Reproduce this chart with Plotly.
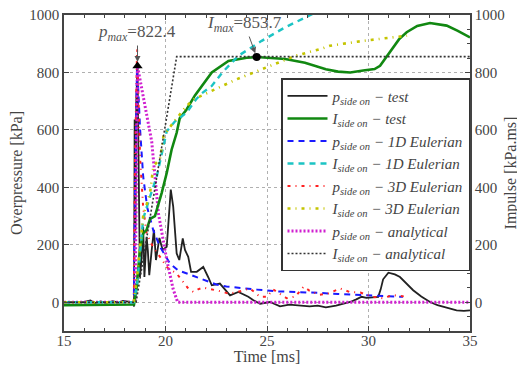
import plotly.graph_objects as go

# ---------------- data ----------------
t_p_test = [15.0, 15.6, 16.0, 16.3, 16.5, 16.8, 17.1, 17.4, 17.7, 17.9, 18.2, 18.42, 18.45, 18.48, 18.52,
            18.56, 18.62, 18.68, 18.74, 18.82, 18.9, 18.96, 19.0, 19.07, 19.13, 19.2, 19.32, 19.43, 19.53,
            19.7, 19.86, 20.06, 20.26, 20.38, 20.55, 20.68, 20.85, 20.96, 21.12, 21.26, 21.54, 21.86, 22.1,
            22.28, 22.68, 23.18, 23.59, 24.08, 24.33, 24.66, 25.15, 25.64, 26.1, 26.6, 27.1, 27.5, 27.9,
            28.4, 28.8, 29.1, 29.4, 29.66, 29.9, 30.2, 30.48, 30.6, 30.72, 30.98, 31.3, 31.55, 31.9, 32.2,
            32.6, 33.03, 33.4, 33.69, 34.0, 34.34, 34.7, 35.0]
p_test = [0, 0, 1, 6, -3, 3, -2, 4, -1, 5, 2, 0, -15, 636, 250,
          700, 822.4, 500, 88, 150, 263, 88, 150, 228, 180, 94, 182, 252, 147,
          224, 182, 193, 392, 333, 170, 147, 222, 182, 158, 106, 106, 123, 88,
          59, 65, 24, 36, 19, 7, -5, 1, -14, -8, -10, -14, -12, -18,
          -12, -4, 1, 10, 19, 15, 16, 19, 45, 80, 103, 97, 88, 65, 42,
          20, 1, -10, -16, -22, -28, -30, -28]

t_I_test = [15.0, 18.4, 18.45, 18.58, 18.74, 18.9, 19.07, 19.24, 19.48, 19.81, 20.06, 20.3, 20.55, 20.7,
            21.04, 21.45, 22.28, 23.1, 24.0, 24.49, 25.0, 25.9, 26.87, 27.9, 28.5, 29.1, 29.74, 30.3,
            30.57, 31.06, 31.5, 31.88, 32.4, 33.03, 33.5, 33.85, 34.4, 35.0]
I_test = [-10, -10, -8, 54, 182, 240, 252, 290, 300, 380, 450, 531, 590, 640,
          671, 720, 800, 840, 851, 853.7, 852, 847, 834, 811, 803, 800, 807, 812,
          823, 870, 915, 940, 962, 972, 968, 963, 945, 922]

t_p_1d = [15.0, 18.44, 18.5, 18.6, 18.75, 18.9, 19.1, 19.4, 19.73, 20.22, 20.6, 21.04, 21.5, 21.86,
          22.5, 23.0, 23.67, 24.5, 25.5, 26.6, 27.5, 28.5, 29.5, 30.4, 31.7]
p_1d = [0, 0, 400, 830, 600, 438, 330, 250, 193, 135, 112, 100, 88, 80,
        62, 55, 49, 44, 38, 36, 33, 29, 26, 22, 19]

t_I_1d = [15.0, 18.44, 18.6, 18.9, 19.24, 19.57, 19.81, 20.06, 20.47, 21.04, 21.5, 21.8, 22.28, 22.8,
          23.59, 24.74, 25.89, 27.2, 28.0]
I_1d = [0, 0, 60, 290, 368, 438, 515, 595, 630, 660, 706, 728, 753, 800,
        858, 910, 957, 1003, 1030]

t_p_3d = [15.0, 18.44, 18.5, 18.6, 18.75, 18.9, 19.07, 19.4, 19.73, 20.1, 20.55, 20.88, 21.1, 21.37,
          21.6, 21.86, 22.1, 22.4, 22.8, 23.1, 23.5, 24.16, 24.66, 25.0, 25.3, 25.97, 26.4, 26.8,
          27.1, 27.6, 28.0, 28.6, 29.1, 29.6, 30.2, 30.7, 31.2, 31.8]
p_3d = [0, 0, 500, 880, 500, 330, 240, 190, 158, 120, 100, 71, 50, 36,
        45, 51, 48, 44, 37, 30, 35, 48, 19, 19, 45, 14, 20, 54,
        40, 26, 30, 48, 35, 34, 19, 14, 25, 20]

t_I_3d = [15.0, 18.44, 18.6, 18.9, 19.24, 19.4, 19.73, 19.9, 20.38, 21.0, 21.37, 22.44, 23.5, 24.74,
          26.4, 27.7, 28.1, 29.74, 31.4, 31.9]
I_3d = [0, 0, 90, 300, 380, 473, 500, 578, 625, 680, 706, 741, 776, 811,
        858, 883, 893, 910, 925, 928]

t_p_an = [15.0, 18.5, 18.62, 19.32, 19.65, 20.06, 20.38, 20.6, 35.0]
p_an = [0, 0, 822.4, 560, 310, 148, 45, 0, 0]

t_I_an = [15.0, 18.55, 20.55, 35.0]
I_an = [0, 0, 855, 855]

peak_p = (18.62, 822.4)
peak_I = (24.49, 853.7)

legend_labels = [
    "<i>p</i><sub><i>side on</i></sub><i> − test</i>",
    "<i>I</i><sub><i>side on</i></sub><i> − test</i>",
    "<i>p</i><sub><i>side on</i></sub><i> − 1D Eulerian</i>",
    "<i>I</i><sub><i>side on</i></sub><i> − 1D Eulerian</i>",
    "<i>p</i><sub><i>side on</i></sub><i> − 3D Eulerian</i>",
    "<i>I</i><sub><i>side on</i></sub><i> − 3D Eulerian</i>",
    "<i>p</i><sub><i>side on</i></sub><i> − analytical</i>",
    "<i>I</i><sub><i>side on</i></sub><i> − analytical</i>",
]

FONT = "Liberation Serif"
TXT = "#444444"

fig = go.Figure()

def add(x, y, name, color, width, dash, yaxis="y"):
    fig.add_trace(go.Scatter(x=x, y=y, name=name, mode="lines", yaxis=yaxis,
                             line=dict(color=color, width=width, dash=dash)))

add(t_p_test, p_test, legend_labels[0], "#222222", 1.8, "solid")
add(t_I_test, I_test, legend_labels[1], "#118811", 2.6, "solid", "y2")
add(t_p_1d, p_1d, legend_labels[2], "#1a1aff", 2.0, "6px,5px")
add(t_I_1d, I_1d, legend_labels[3], "#1cc4c4", 2.4, "6px,5px", "y2")
add(t_p_3d, p_3d, legend_labels[4], "#ff2020", 2.0, "3px,5px,1px,5px")
add(t_I_3d, I_3d, legend_labels[5], "#c4c400", 2.6, "3px,5px,1px,5px", "y2")
add(t_p_an, p_an, legend_labels[6], "#d020d0", 3.0, "2px,2px")
add(t_I_an, I_an, legend_labels[7], "#333333", 1.6, "2px,2px", "y2")

fig.add_trace(go.Scatter(x=[peak_p[0]], y=[peak_p[1]], mode="markers", showlegend=False,
                         marker=dict(symbol="triangle-up", size=9, color="black")))
fig.add_trace(go.Scatter(x=[peak_I[0]], y=[peak_I[1]], mode="markers", showlegend=False, yaxis="y2",
                         marker=dict(symbol="circle", size=8, color="black")))

fig.add_annotation(x=peak_p[0], y=peak_p[1], xref="x", yref="y",
                   text="<i>p</i><sub><i>max</i></sub>=822.4", showarrow=True,
                   ax=0, ay=-33, arrowhead=2, arrowsize=1.2, arrowwidth=1, arrowcolor="#555555",
                   standoff=4, font=dict(family=FONT, size=17, color="#555555"))
fig.add_annotation(x=peak_I[0], y=peak_I[1], xref="x", yref="y2",
                   text="<i>I</i><sub><i>max</i></sub>=853.7", showarrow=True,
                   ax=-12, ay=-33, arrowhead=2, arrowsize=1.2, arrowwidth=1, arrowcolor="#555555",
                   standoff=4, font=dict(family=FONT, size=17, color="#555555"))

axis_common = dict(showline=True, linecolor="#444444", linewidth=1.5, ticks="inside",
                   tickcolor="#444444", tickfont=dict(family=FONT, size=15, color=TXT),
                   zeroline=False, automargin=False, ticklabeloverflow="allow")

# the page body adds an 8px offset, so the figure is sized to compensate
fig.update_layout(
    width=517, height=357,
    margin=dict(l=56, r=55, t=7, b=34),
    paper_bgcolor="white", plot_bgcolor="white",
    font=dict(family=FONT, size=15, color=TXT),
    xaxis=dict(range=[15, 35], tickvals=[15, 20, 25, 30, 35], ticklen=5, mirror="ticks",
               showgrid=True, gridcolor="#b0b0b0", griddash="dot", gridwidth=1,
               ticklabelstandoff=-5,
               minor=dict(dtick=1, ticks="inside", ticklen=3, tickcolor="#444444", showgrid=False),
               title=dict(text="Time [ms]", font=dict(family=FONT, size=16, color=TXT), standoff=0),
               **axis_common),
    yaxis=dict(range=[-100, 1000], tickvals=[0, 200, 400, 600, 800, 1000], ticklen=5,
               showgrid=True, gridcolor="#b0b0b0", griddash="dot", gridwidth=1,
               title=dict(text="Overpressure [kPa]", font=dict(family=FONT, size=16, color=TXT), standoff=8),
               **axis_common),
    yaxis2=dict(range=[-100, 1000], tickvals=[0, 200, 400, 600, 800, 1000], ticklen=5,
                overlaying="y", side="right", showgrid=False,
                minor=dict(dtick=50, ticks="inside", ticklen=3, tickcolor="#444444", showgrid=False),
                title=dict(text="Impulse [kPa.ms]", font=dict(family=FONT, size=16, color=TXT), standoff=1),
                **axis_common),
    legend=dict(x=1.0, xanchor="right", y=0.80, yanchor="top",
                bgcolor="white", bordercolor="#333333", borderwidth=1.5,
                font=dict(family=FONT, size=15, color="#444444"),
                tracegroupgap=0, itemwidth=40),
    showlegend=True,
)

fig.write_html("out.html")
